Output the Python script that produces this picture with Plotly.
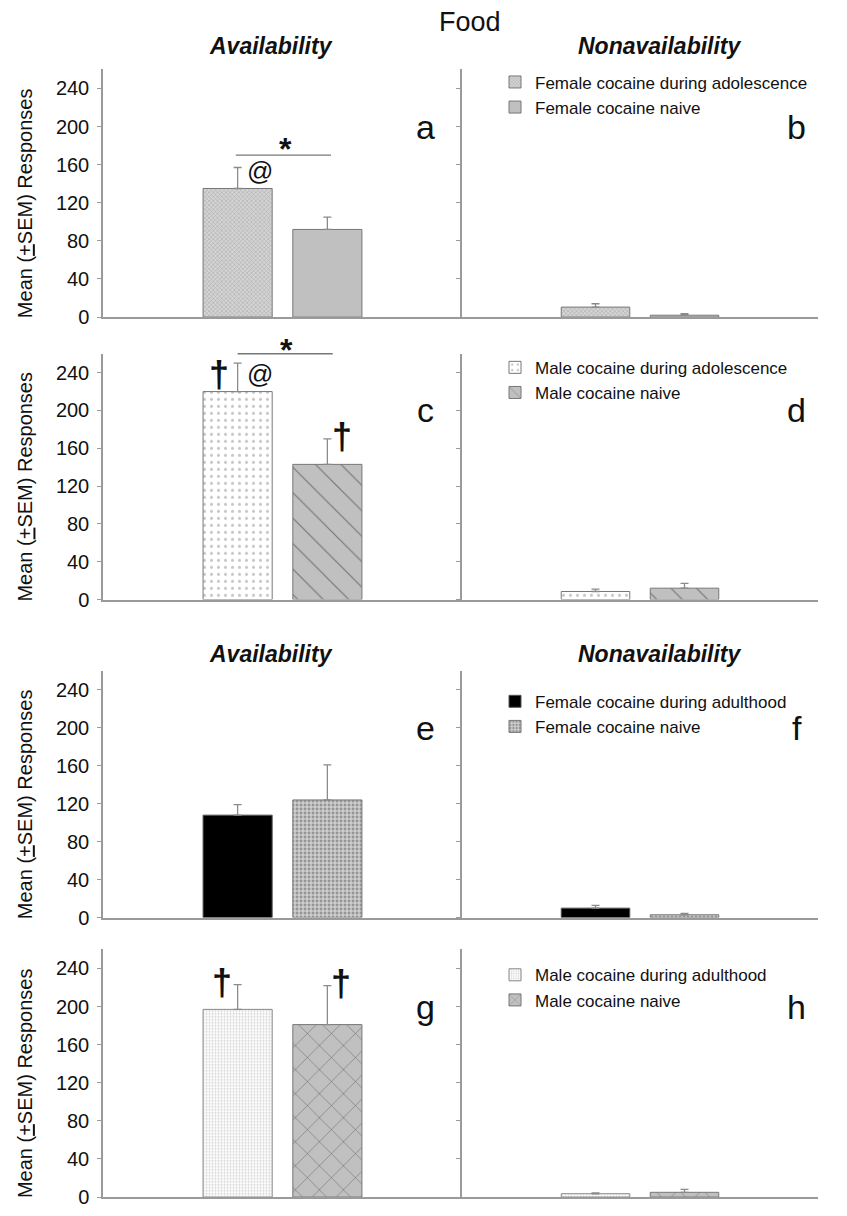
import plotly.graph_objects as go

# ---- data -------------------------------------------------------------
series_names = [
    ["Female cocaine during adolescence", "Female cocaine naive"],
    ["Male cocaine during adolescence", "Male cocaine naive"],
    ["Female cocaine during adulthood", "Female cocaine naive"],
    ["Male cocaine during adulthood", "Male cocaine naive"],
]
availability_mean = [[135, 92], [220, 143], [108, 124], [197, 181]]
availability_sem = [[22, 13], [30, 27], [11, 37], [26, 41]]
nonavailability_mean = [[10.5, 2], [8.5, 12], [10, 3], [3.5, 5]]
nonavailability_sem = [[3.5, 1.5], [2.5, 5], [3, 1.5], [1, 3]]
y_ticks = [0, 40, 80, 120, 160, 200, 240]
panel_letters = [["a", "b"], ["c", "d"], ["e", "f"], ["g", "h"]]

# ---- geometry (pixels) -----------------------------------------------
W, H = 847, 1216
ROWS = [(70, 320), (357, 605), (677, 926), (958, 1208)]
LEFT = (103, 462)
RIGHT = (462, 818)
Y_MAX = 260
X_RANGE = [-1.5, 2.5]
SPAN = X_RANGE[1] - X_RANGE[0]
FONT = "Arial, Liberation Sans, sans-serif"
AXIS_GREY = "#9a9a9a"


def px_x(px):
    return px / W


def px_y(py):
    return 1 - py / H


styles = [
    [dict(color="#cccccc", line=dict(color="#777", width=1),
          pattern=dict(shape="x", fgcolor="#777", bgcolor="#d4d4d4", size=3, solidity=0.3)),
     dict(color="#c0c0c0", line=dict(color="#777", width=1))],
    [dict(color="white", line=dict(color="#777", width=1),
          pattern=dict(shape=".", fgcolor="#888", bgcolor="white", size=7, solidity=0.15)),
     dict(color="#c0c0c0", line=dict(color="#777", width=1),
          pattern=dict(shape="\\", fgcolor="#222", bgcolor="#c0c0c0", size=18, solidity=0.06))],
    [dict(color="black", line=dict(color="#555", width=1)),
     dict(color="#c8c8c8", line=dict(color="#777", width=1),
          pattern=dict(shape=".", fgcolor="#555", bgcolor="#d0d0d0", size=4, solidity=0.45))],
    [dict(color="white", line=dict(color="#888", width=1),
          pattern=dict(shape=".", fgcolor="#a8a8a8", bgcolor="white", size=3, solidity=0.4)),
     dict(color="#c0c0c0", line=dict(color="#777", width=1),
          pattern=dict(shape="x", fgcolor="#333", bgcolor="#c0c0c0", size=17, solidity=0.08))],
]

fig = go.Figure()
layout = dict(
    width=W, height=H, margin=dict(l=0, r=0, t=0, b=0),
    paper_bgcolor="white", plot_bgcolor="white",
    barmode="overlay", showlegend=True,
    font=dict(family=FONT, color="#111"),
)
annotations = []
shapes = []


def mark(text, panel, x, y, size, bold=True):
    """Text placed at data coordinates (x, y) of a panel, via its domain refs."""
    sfx = "" if panel == 1 else str(panel)
    annotations.append(dict(
        text=("<b>%s</b>" % text) if bold else text,
        xref="x%s domain" % sfx, yref="y%s domain" % sfx,
        x=(x - X_RANGE[0]) / SPAN, y=y / Y_MAX,
        xanchor="center", yanchor="middle", showarrow=False,
        font=dict(size=size, color="#111"),
    ))


def bracket(panel, x0, x1, yv):
    sfx = "" if panel == 1 else str(panel)
    shapes.append(dict(
        type="line", xref="x%s domain" % sfx, yref="y%s domain" % sfx,
        x0=(x0 - X_RANGE[0]) / SPAN, x1=(x1 - X_RANGE[0]) / SPAN,
        y0=yv / Y_MAX, y1=yv / Y_MAX,
        line=dict(color="#777", width=1.3),
    ))


def paper_text(text, x, y, size, angle=0):
    annotations.append(dict(
        text=text, xref="paper", yref="paper", x=px_x(x), y=px_y(y),
        xanchor="center", yanchor="middle", textangle=angle,
        showarrow=False, font=dict(size=size, color="#111"),
    ))


for r, (top, bottom) in enumerate(ROWS):
    legend_name = "legend" if r == 0 else "legend%d" % (r + 1)
    for c, (means, sems) in enumerate([(availability_mean, availability_sem),
                                       (nonavailability_mean, nonavailability_sem)]):
        idx = 2 * r + c + 1
        sfx = "" if idx == 1 else str(idx)
        xname, yname = "x" + sfx, "y" + sfx
        for k in range(2):
            fig.add_trace(go.Bar(
                x=[k], y=[means[r][k]], width=0.77,
                name=series_names[r][k],
                marker=styles[r][k],
                error_y=dict(type="data", array=[sems[r][k]], arrayminus=[0],
                             symmetric=False, color="#8a8a8a", thickness=1.3, width=4),
                xaxis=xname, yaxis=yname,
                showlegend=(c == 1), legend=legend_name,
            ))
        xdom = LEFT if c == 0 else RIGHT
        layout["xaxis" + sfx] = dict(
            domain=[px_x(xdom[0]), px_x(xdom[1])], range=X_RANGE, anchor=yname,
            showline=True, linecolor=AXIS_GREY, linewidth=1.5,
            showticklabels=False, ticks="", showgrid=False, zeroline=False, fixedrange=True,
        )
        layout["yaxis" + sfx] = dict(
            domain=[px_y(bottom), px_y(top)], range=[0, Y_MAX], anchor=xname,
            showline=True, linecolor=AXIS_GREY, linewidth=1.5,
            tickvals=y_ticks, ticks="outside", ticklen=4, tickcolor=AXIS_GREY,
            showticklabels=(c == 0), tickfont=dict(size=20, color="#111"),
            ticklabelstandoff=4,
            showgrid=False, zeroline=False, fixedrange=True,
        )
        # panel letter
        mark(panel_letters[r][c], idx, 2.09 if c == 0 else 2.26, 200, 34, bold=False)
    # y axis title for the availability panel
    paper_text("Mean (<u>+</u>SEM) Responses", 25, (top + bottom) / 2 + 10, 20, angle=-90)
    # legend of this row, placed inside the nonavailability panel
    legend_top = [65, 353, 690, 966][r]
    layout[legend_name] = dict(
        x=px_x(495), y=px_y(legend_top), xanchor="left", yanchor="top",
        bgcolor="rgba(0,0,0,0)", font=dict(size=17, color="#111"),
        traceorder="normal", tracegroupgap=0, itemwidth=30,
    )

# headings
paper_text("Food", 470, 22, 27)
for ty in (46, 660):
    paper_text("<b><i>Availability</i></b>", 271, ty, 23)
    paper_text("<b><i>Nonavailability</i></b>", 660, ty, 23)

# panel a significance marks
bracket(1, -0.02, 1.04, 170)
mark("*", 1, 0.53, 176, 32)
mark("@", 1, 0.25, 153, 26, bold=False)
# panel c significance marks
bracket(3, 0.0, 1.06, 260)
mark("*", 3, 0.55, 264, 32)
mark("@", 3, 0.25, 239, 26, bold=False)
mark("†", 3, -0.21, 238, 36)
mark("†", 3, 1.16, 172, 36)
# panel g significance marks
mark("†", 7, -0.17, 225, 36)
mark("†", 7, 1.15, 224, 36)

layout["annotations"] = annotations
layout["shapes"] = shapes
fig.update_layout(**layout)
fig.write_html("out.html")
